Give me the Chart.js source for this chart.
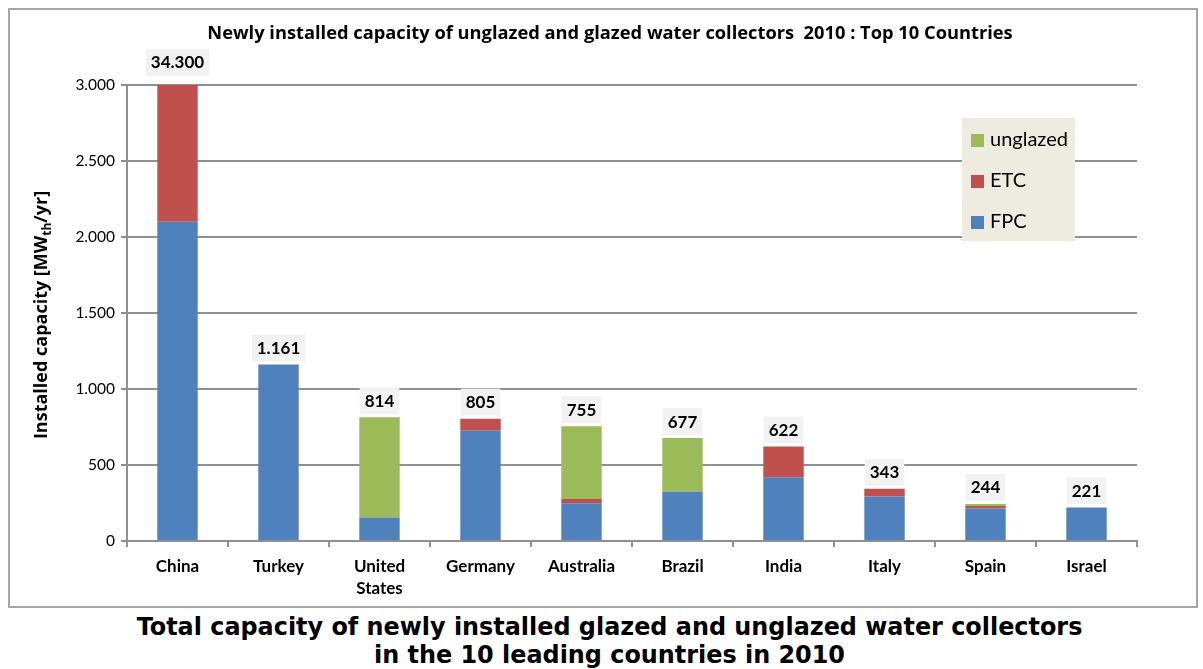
<!DOCTYPE html>
<html>
<head>
<meta charset="utf-8">
<script src="https://cdn.jsdelivr.net/npm/chart.js@4"></script>
<style>
  html, body { margin: 0; padding: 0; background: #fff; }
  #page { position: relative; width: 1203px; height: 669px; overflow: hidden; }
  #frame { position: absolute; left: 8px; top: 8px; width: 1190px; height: 600px; border: 2px solid #a6a6a6; box-sizing: border-box; }
  #chartBox { position: absolute; left: 0; top: 0; width: 1203px; height: 612px; }
  #caption { position: absolute; left: 0; top: 613px; width: 1219px; text-align: center;
    font-family: "DejaVu Sans", sans-serif; font-weight: bold; font-size: 23.9px; line-height: 28px; color: #000; }
</style>
</head>
<body>
<div id="page">
  <div id="frame"></div>
  <div id="chartBox"><canvas id="myChart"></canvas></div>
  <div id="caption">Total capacity of newly installed glazed and unglazed water collectors<br>in the 10 leading countries in 2010</div>
</div>
<script>
// data (MWth/yr)
const categories = ['China', 'Turkey', ['United', 'States'], 'Germany', 'Australia', 'Brazil', 'India', 'Italy', 'Spain', 'Israel'];
const fpc = [2100, 1161, 155, 726, 248, 324, 419, 292, 214, 221];
const etc = [32200, 0, 0, 79, 28, 0, 203, 51, 16, 0];
const unglazed = [0, 0, 659, 0, 479, 353, 0, 0, 14, 0];
const totals = [34300, 1161, 814, 805, 755, 677, 622, 343, 244, 221];
const yTicks = [0, 500, 1000, 1500, 2000, 2500, 3000];

const chartTitle = 'Newly installed capacity of unglazed and glazed water collectors  2010 : Top 10 Countries';
const fontFamily = 'Lato, "Open Sans", sans-serif';
const headFont = '"Open Sans", Lato, sans-serif';

const fmt = new Intl.NumberFormat('de-DE');

// title, y axis title, value labels and the legend box
const extras = {
  id: 'extras',
  afterDatasetsDraw(chart) {
    const ctx = chart.ctx;
    const x = chart.scales.x;
    const y = chart.scales.y;
    const area = chart.chartArea;

    ctx.save();
    // title
    ctx.fillStyle = '#000';
    ctx.font = 'bold 18.3px ' + headFont;
    ctx.textAlign = 'center';
    ctx.textBaseline = 'middle';
    ctx.fillText(chartTitle, 610, 34);

    // total labels
    ctx.font = 'bold 17px ' + fontFamily;
    totals.forEach((t, i) => {
      const cx = x.getPixelForValue(i);
      let top = y.getPixelForValue(t);
      if (top < area.top) top = area.top - 6;
      const txt = fmt.format(t);
      const w = ctx.measureText(txt).width + 10;
      ctx.fillStyle = '#f2f2f2';
      ctx.fillRect(cx - w / 2, top - 30, w, 27);
      ctx.fillStyle = '#000';
      ctx.fillText(txt, cx, top - 16);
    });

    // y axis title with subscript
    ctx.translate(40, 315);
    ctx.rotate(-Math.PI / 2);
    const p1 = 'Installed capacity [MW', sub = 'th', p2 = '/yr]';
    ctx.font = 'bold 18px ' + headFont;
    const w1 = ctx.measureText(p1).width, w3 = ctx.measureText(p2).width;
    ctx.font = 'bold 12px ' + headFont;
    const w2 = ctx.measureText(sub).width;
    let sx = -(w1 + w2 + w3) / 2;
    ctx.textAlign = 'left';
    ctx.textBaseline = 'alphabetic';
    ctx.font = 'bold 18px ' + headFont;
    ctx.fillText(p1, sx, 7);
    ctx.font = 'bold 12px ' + headFont;
    ctx.fillText(sub, sx + w1, 11);
    ctx.font = 'bold 18px ' + headFont;
    ctx.fillText(p2, sx + w1 + w2, 7);
    ctx.restore();

    // legend
    ctx.save();
    ctx.fillStyle = '#eeece1';
    ctx.fillRect(962, 118, 113, 123);
    const items = chart.data.datasets.slice().reverse();
    ctx.font = '20px ' + fontFamily;
    ctx.textBaseline = 'middle';
    ctx.textAlign = 'left';
    items.forEach((ds, k) => {
      const cy = 140 + k * 41;
      ctx.fillStyle = ds.backgroundColor;
      ctx.fillRect(971, cy - 6, 13, 13);
      ctx.fillStyle = '#000';
      ctx.fillText(ds.label, 990, cy);
    });
    ctx.restore();
  }
};

new Chart(document.getElementById('myChart'), {
  type: 'bar',
  data: {
    labels: categories,
    datasets: [
      { label: 'FPC', data: fpc, backgroundColor: '#4f81bd' },
      { label: 'ETC', data: etc, backgroundColor: '#c0504d' },
      { label: 'unglazed', data: unglazed, backgroundColor: '#9bbb59' }
    ]
  },
  options: {
    responsive: true,
    maintainAspectRatio: false,
    animation: false,
    layout: { padding: { left: 0, right: 66, top: 85, bottom: 0 } },
    datasets: { bar: { barPercentage: 0.4, categoryPercentage: 1 } },
    scales: {
      x: {
        stacked: true,
        afterFit(scale) { scale.height = 71; },
        grid: { offset: true, drawOnChartArea: false, drawTicks: true, tickLength: 6, color: '#909090', lineWidth: 2 },
        border: { color: '#909090', width: 2 },
        ticks: { color: '#000', padding: 8, font: { family: fontFamily, size: 17, weight: 'bold', lineHeight: 1.3 } }
      },
      y: {
        stacked: true,
        min: 0,
        max: 3000,
        afterFit(scale) { scale.width = 127; },
        afterBuildTicks(scale) { scale.ticks = yTicks.map(v => ({ value: v })); },
        grid: { color: '#909090', lineWidth: 2, tickLength: 6 },
        border: { color: '#909090', width: 2 },
        ticks: {
          color: '#000', padding: 6,
          font: { family: fontFamily, size: 15.5 },
          callback: v => fmt.format(v)
        }
      }
    },
    plugins: {
      legend: { display: false },
      tooltip: { enabled: false }
    }
  },
  plugins: [extras]
});
</script>
</body>
</html>
